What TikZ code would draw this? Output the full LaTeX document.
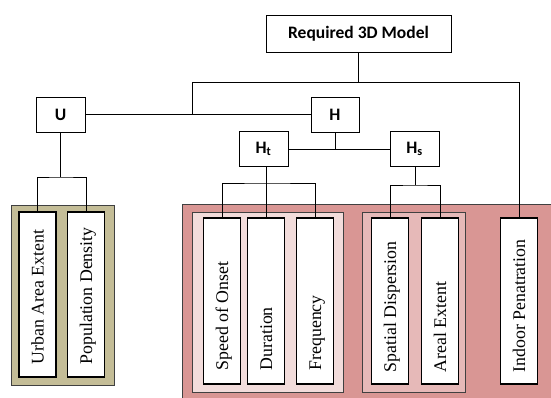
\documentclass[tikz,border=0pt]{standalone}
\usepackage{fontspec}
\setmainfont{Liberation Serif}
\newfontfamily\calfont{Carlito}
\usetikzlibrary{calc}
\definecolor{olivec}{HTML}{C4BD97}
\definecolor{pinkc}{HTML}{D99694}
\definecolor{lightc}{HTML}{F2DCDB}
\definecolor{midc}{HTML}{E6B9B8}
\begin{document}
\begin{tikzpicture}[x=1pt,y=-1pt,
  topbox/.style={draw=black, line width=0.8pt, fill=white, inner sep=0pt,
    font=\calfont\bfseries\fontsize{17.5}{19}\selectfont},
  cont/.style={draw=black!75, line width=0.9pt},
  leaf/.style={draw=black, line width=1.2pt, fill=white, inner sep=0pt,
    minimum width=37pt, minimum height=166pt},
  lbl/.style={rotate=90, anchor=base west, inner sep=0pt,
    font=\fontsize{17.8}{20}\selectfont},
  conn/.style={draw=black, line width=0.8pt}]
\useasboundingbox (0,0) rectangle (551,397);

% containers
\filldraw[cont, fill=pinkc] (182,204) rectangle (556,402);
\filldraw[cont, fill=olivec] (11,205) rectangle (114,385);
\filldraw[cont, fill=lightc] (192,212) rectangle (343,392);
\filldraw[cont, fill=midc] (362,212) rectangle (465,392);

% top-level boxes
\node[topbox, minimum width=185pt, minimum height=37pt] (model) at (358.5,33.5) {Required 3D Model};
\node[topbox, minimum width=49pt, minimum height=35pt] (U) at (60.5,114.5) {U};
\node[topbox, minimum width=48pt, minimum height=35pt] (H) at (335,114.5) {H};
\node[topbox, minimum width=49pt, minimum height=35pt] (Ht) at (263.5,149) {H\textsubscript{t}};
\node[topbox, minimum width=49pt, minimum height=35pt] (Hs) at (414.5,149) {H\textsubscript{s}};

% leaves
\node[leaf, minimum height=165pt] (urban) at (37.5,294.5) {};
\node[leaf, minimum height=165pt] (pop) at (86,294.5) {};
\node[leaf] (speed) at (222,301) {};
\node[leaf] (dur) at (266,301) {};
\node[leaf] (freq) at (315,301) {};
\node[leaf] (spd) at (390,301) {};
\node[leaf] (areal) at (440,301) {};
\node[leaf] (indoor) at (519,301) {};

\node[lbl] (lurban) at ($(urban.south)+(6,-13)$) {Urban Area Extent};
\node[lbl] (lpop) at ($(pop.south)+(6,-13)$) {Population Density};
\node[lbl] (lspeed) at ($(speed.south)+(6,-14)$) {Speed of Onset};
\node[lbl] (ldur) at ($(dur.south)+(6,-14)$) {Duration};
\node[lbl] (lfreq) at ($(freq.south)+(6,-14)$) {Frequency};
\node[lbl] (lspd) at ($(spd.south)+(6,-12)$) {Spatial Dispersion};
\node[lbl] (lareal) at ($(areal.south)+(6,-12)$) {Areal Extent};
\node[lbl] (lindoor) at ($(indoor.south)+(6,-12)$) {Indoor Penatration};

% connectors
\coordinate (jl) at (192,82);
\coordinate (jr) at (519,82);
\coordinate (ub) at (60.5,177);
\coordinate (tb) at (266,183);
\coordinate (sb) at (415,185);
\draw[conn] (model.south) -- (model.south |- jl);
\draw[conn] (jl) -- (jr) -- (indoor.north);
\draw[conn] (jl) -- (jl |- U.east);
\draw[conn] (U.east) -- (H.west);
\draw[conn] (H.south) -- (H.south |- Ht.east);
\draw[conn] (Ht.east) -- (Hs.west);
\draw[conn] (U.south) -- (ub);
\draw[conn] (urban.north) |- (ub) -| (pop.north);
\draw[conn] (tb |- Ht.south) -- (dur.north);
\draw[conn] (speed.north) |- (tb) -| (freq.north);
\draw[conn] (sb |- Hs.south) -- (sb);
\draw[conn] (spd.north) |- (sb) -| (areal.north);
\end{tikzpicture}
\end{document}
